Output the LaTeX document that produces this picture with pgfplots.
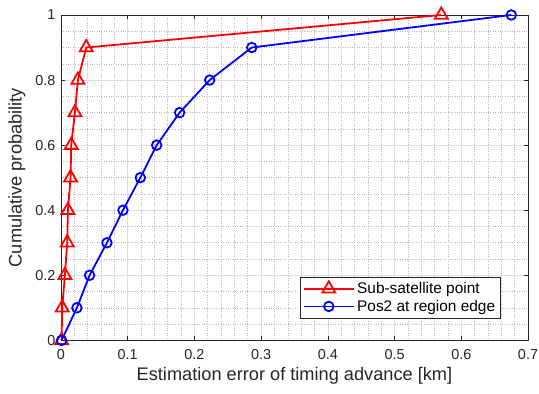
\documentclass[border=0pt]{standalone}
\usepackage{pgfplots}
\pgfplotsset{compat=1.18}
\usepackage{fontspec}
\setmainfont{Liberation Sans}
\definecolor{axgray}{gray}{0.15}
\definecolor{gridmaj}{gray}{0.87}
\definecolor{gridmin}{gray}{0.72}
\begin{document}
\begin{tikzpicture}[x=1bp,y=1bp]
\begin{axis}[
  scale only axis,
  width=468bp, height=326bp,
  xmin=0, xmax=0.7, ymin=0, ymax=1,
  xtick={0,0.1,...,0.7},
  ytick={0,0.2,...,1},
  xticklabels={0,0.1,0.2,0.3,0.4,0.5,0.6,0.7},
  yticklabels={0,0.2,0.4,0.6,0.8,1},
  minor x tick num=4,
  minor y tick num=3,
  grid=both,
  major grid style={gridmaj, line width=0.5bp},
  minor grid style={gridmin, dotted, line width=0.5bp},
  axis line style={axgray, line width=0.6bp},
  tick style={axgray, line width=0.6bp},
  major tick length=4.5bp,
  minor tick length=0bp,
  tick align=inside,
  ticklabel style={font=\fontsize{14.5}{17}\selectfont, text=axgray},
  xticklabel style={yshift=-6bp},
  yticklabel style={xshift=-2bp},
  /pgf/number format/assume math mode=true,
  xlabel={Estimation error of timing advance [km]},
  ylabel={Cumulative probability},
  label style={font=\fontsize{18.3}{21}\selectfont, text=axgray},
  xlabel style={yshift=0bp},
  ylabel style={yshift=3bp},
  legend style={at={(0.942,0.067)}, anchor=south east, draw=axgray, line width=0.6bp,
    font=\fontsize{15.5}{18}\selectfont, fill=white, inner sep=3bp, row sep=0bp,
    nodes={inner sep=2.5bp}},
  legend cell align=left,
  legend image code/.code={\draw[mark repeat=2,mark phase=2] plot coordinates {(0bp,0bp) (25bp,0bp) (50bp,0bp)};},
]
\addplot[red, line width=1.8bp, mark=triangle, mark size=7.5bp, mark options={solid, line width=1.8bp}]
  coordinates {(0.001,0) (0.002,0.1) (0.006,0.2) (0.0095,0.3) (0.0105,0.4) (0.0145,0.5) (0.0155,0.6) (0.021,0.7) (0.0255,0.8) (0.038,0.9) (0.57,1.0)};
\addlegendentry{Sub-satellite point}
\addplot[blue, line width=1.8bp, mark=o, mark size=4.8bp, mark options={solid, line width=1.8bp}]
  coordinates {(0.001,0) (0.024,0.1) (0.043,0.2) (0.069,0.3) (0.093,0.4) (0.119,0.5) (0.1436,0.6) (0.178,0.7) (0.223,0.8) (0.286,0.9) (0.675,1.0)};
\addlegendentry{Pos2 at region edge}
\end{axis}
\pgfresetboundingbox
\path (-61bp,-53bp) rectangle (479bp,341bp);
\end{tikzpicture}
\end{document}
